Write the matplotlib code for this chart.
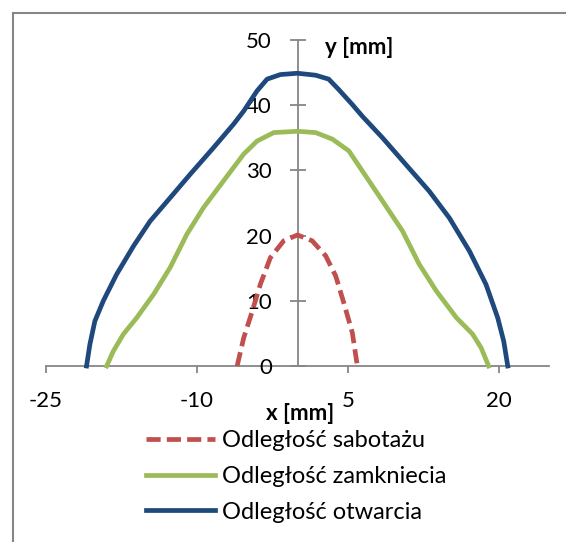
import matplotlib
matplotlib.use("Agg")
import matplotlib.pyplot as plt
from matplotlib.lines import Line2D

# Data (x [mm], y [mm])
sab_x = [-6.0, -5.35, -4.5, -3.7, -2.7, -1.37, 0.0, 1.46, 2.8, 3.8, 4.6, 5.45, 5.95]
sab_y = [0.0, 4.3, 8.4, 12.5, 16.6, 19.2, 20.1, 19.2, 16.9, 13.8, 9.7, 5.1, 0.0]

zam_x = [-18.97, -18.3, -17.3, -15.98, -14.3, -12.66, -11.0, -9.34, -7.35, -5.35,
         -4.02, -2.36, 0.0, 1.8, 3.46, 5.1, 6.45, 8.45, 10.44, 12.1, 13.8, 15.8,
         17.4, 18.25, 19.0]
zam_y = [0.0, 2.3, 4.9, 7.4, 11.0, 15.1, 20.2, 24.3, 28.4, 32.5,
         34.5, 35.8, 36.0, 35.8, 34.8, 33.0, 29.9, 25.3, 20.7, 15.6, 11.5, 7.4,
         4.9, 2.8, 0.0]

otw_x = [-20.97, -20.64, -20.14, -19.3, -17.98, -16.3, -14.66, -12.66, -10.67, -8.34,
         -6.35, -5.35, -4.02, -3.02, -1.7, 0.0, 1.8, 3.1, 4.1, 5.45, 6.45, 8.45,
         10.77, 13.1, 15.1, 17.1, 18.74, 19.9, 20.5, 20.9]
otw_y = [0.0, 3.3, 6.9, 10.0, 14.06, 18.4, 22.2, 25.8, 29.4, 33.5,
         37.1, 39.1, 42.2, 44.0, 44.7, 44.9, 44.6, 44.0, 42.4, 40.1, 38.3, 35.0,
         30.9, 26.8, 22.7, 17.6, 12.5, 7.4, 3.8, 0.0]

labels = ["Odległość sabotażu", "Odległość zamkniecia", "Odległość otwarcia"]
x_ticks = [-25, -10, 5, 20]
y_ticks = [0, 10, 20, 30, 40, 50]

plt.rcParams['font.family'] = ['Lato', 'DejaVu Sans']
plt.rcParams['axes.unicode_minus'] = False

W, H = 566, 542
fig = plt.figure(figsize=(W / 100, H / 100), dpi=100)
ax = fig.add_axes([46 / W, 1 - 366 / H, (549 - 46) / W, (366 - 40) / H])
ax.set_xlim(-25, 25)
ax.set_ylim(0, 50)

red = "#C0504D"
green = "#9BBB59"
blue = "#1F497D"
gray = "#868686"
FS = 16
LFS = 17
LW = 3.4

l1, = ax.plot(sab_x, sab_y, color=red, lw=LW, ls=(0, (3, 1.3)), solid_capstyle='butt',
              label=labels[0], clip_on=False)
l2, = ax.plot(zam_x, zam_y, color=green, lw=LW, label=labels[1], clip_on=False,
              solid_joinstyle='round')
l3, = ax.plot(otw_x, otw_y, color=blue, lw=LW, label=labels[2], clip_on=False,
              solid_joinstyle='round')

for s in ['top', 'right']:
    ax.spines[s].set_visible(False)
ax.spines['left'].set_position(('data', 0))
ax.spines['bottom'].set_position(('data', 0))
for s in ['left', 'bottom']:
    ax.spines[s].set_color(gray)
    ax.spines[s].set_linewidth(1.3)
    ax.spines[s].set_zorder(0)

ax.set_xticks(x_ticks)
ax.set_yticks(y_ticks)
ax.tick_params(axis='x', direction='out', length=5, width=1.3, color=gray,
               labelsize=FS, pad=13)
ax.tick_params(axis='y', direction='inout', length=11, width=1.3, color=gray,
               labelsize=FS, pad=13)

fig.text(300 / W, 1 - 413 / H, "x [mm]", ha='center', va='center', fontsize=FS,
         fontweight='bold')
fig.text(359 / W, 1 - 47 / H, "y [mm]", ha='center', va='center', fontsize=FS,
         fontweight='bold')

fig.legend(handles=[l1, l2, l3], labels=labels, loc='upper left',
           bbox_to_anchor=(125 / W, 1 - 409 / H), frameon=False, fontsize=LFS,
           handlelength=2.9, handletextpad=0.3, labelspacing=0.62)

# outer chart border
fig.add_artist(Line2D([13 / W, 13 / W], [0, 1 - 13 / H], color=gray, lw=1.5,
                      transform=fig.transFigure))
fig.add_artist(Line2D([13 / W, 1], [1 - 13 / H, 1 - 13 / H], color=gray, lw=1.5,
                      transform=fig.transFigure))

fig.savefig("out.png", dpi=100)
